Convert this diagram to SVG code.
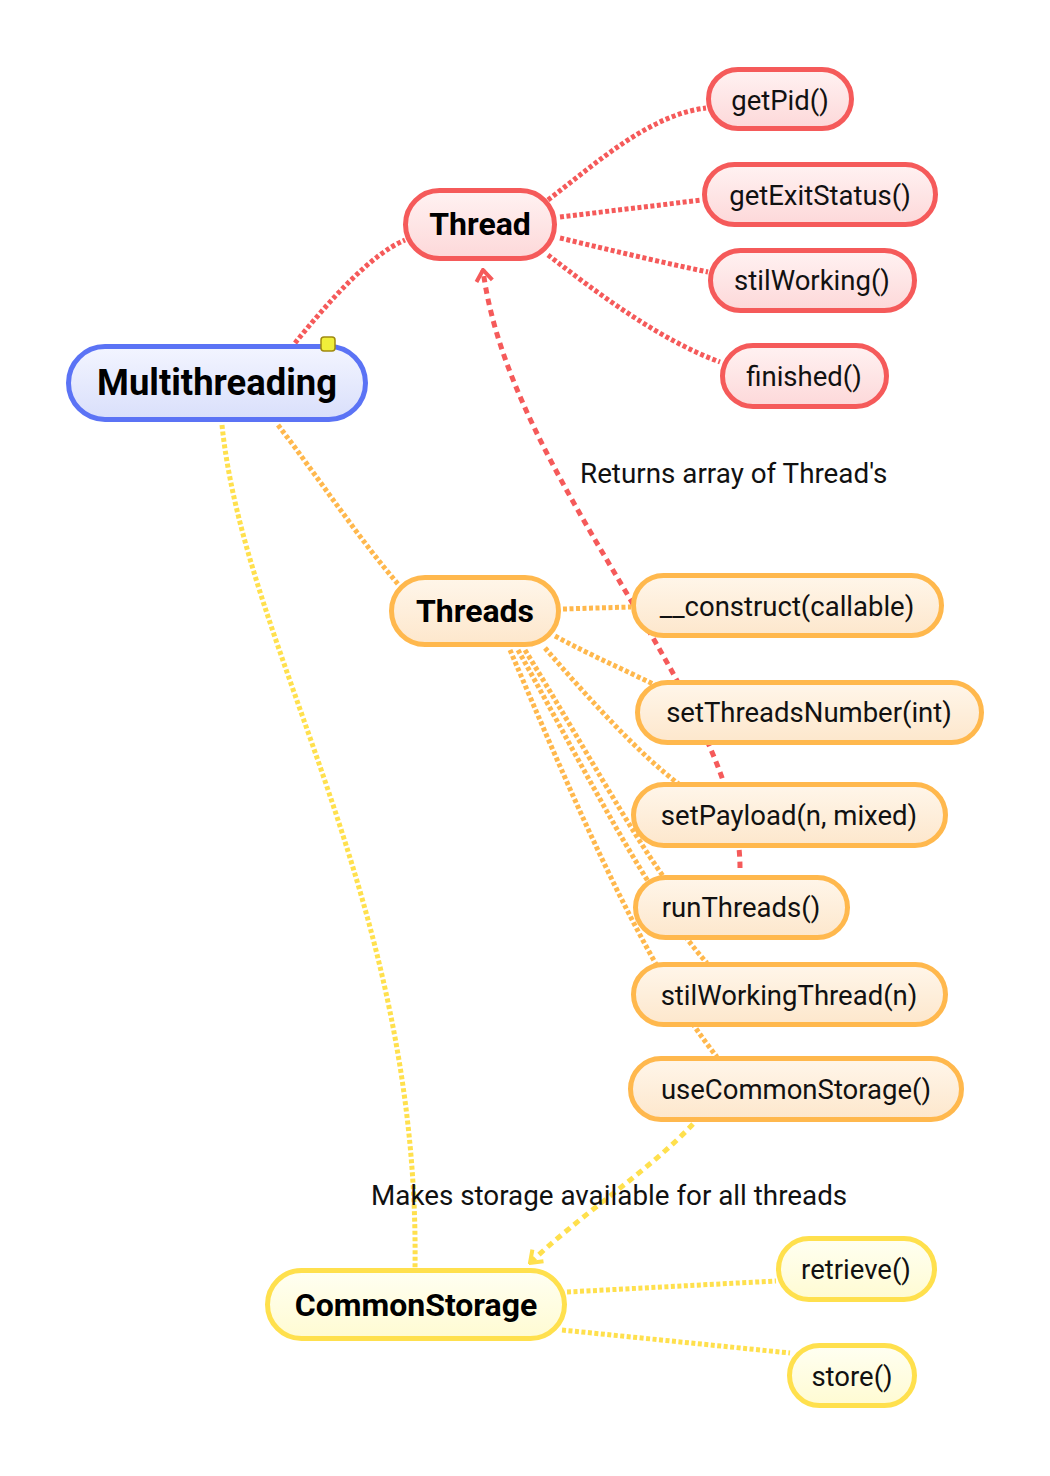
<svg xmlns="http://www.w3.org/2000/svg" width="1050" height="1476" viewBox="0 0 1050 1476">
<defs>
<linearGradient id="gBlue" x1="0" y1="0" x2="0" y2="1"><stop offset="0" stop-color="#f3f5ff"/><stop offset="1" stop-color="#d9dffb"/></linearGradient>
<linearGradient id="gRed" x1="0" y1="0" x2="0" y2="1"><stop offset="0" stop-color="#fff2f2"/><stop offset="1" stop-color="#fdd8d9"/></linearGradient>
<linearGradient id="gOrange" x1="0" y1="0" x2="0" y2="1"><stop offset="0" stop-color="#fff6ea"/><stop offset="1" stop-color="#fde7cc"/></linearGradient>
<linearGradient id="gYellow" x1="0" y1="0" x2="0" y2="1"><stop offset="0" stop-color="#fffff2"/><stop offset="1" stop-color="#fffbd2"/></linearGradient>
<marker id="arrRed" viewBox="-14 -10 16 20" markerWidth="16" markerHeight="20" refX="0" refY="0" orient="auto" markerUnits="userSpaceOnUse"><path d="M-11,-8 L0,0 L-11,8" fill="none" stroke="#f55a5a" stroke-width="4"/></marker>
<marker id="arrYellow" viewBox="-14 -10 16 20" markerWidth="16" markerHeight="20" refX="0" refY="0" orient="auto" markerUnits="userSpaceOnUse"><path d="M-11,-8 L0,0 L-11,8" fill="none" stroke="#ffe04d" stroke-width="4"/></marker>
</defs>
<style>
.c{fill:none;stroke-width:5;stroke-dasharray:4 2.5}
.red{stroke:#f55a5a}
.orange{stroke:#ffb84d}
.yellow{stroke:#ffe04d}
.x{fill:none;stroke-width:5;stroke-dasharray:6.5 5}
.n rect{stroke-width:5}
.nr rect{fill:url(#gRed);stroke:#f55a5a}
.no rect{fill:url(#gOrange);stroke:#ffb84d}
.ny rect{fill:url(#gYellow);stroke:#ffe04d}
.nb rect{fill:url(#gBlue);stroke:#5b73f5}
text{font-family:Roboto,"Liberation Sans",sans-serif;text-anchor:middle;fill:#111}
.t{font-size:27.5px}
.b{font-size:32px;font-weight:bold;fill:#000}
.lbl{font-size:27.8px;text-anchor:start}
</style>
<g id="connectors">
<path class="c red" d="M295,343 C330,300 370,255 405,240"/>
<path class="c orange" d="M278,425 C320,480 360,540 398,584"/>
<path class="c yellow" d="M222,425 C245,650 420,900 415,1268"/>
<path class="c red" d="M548,200 C600,160 650,115 706,108"/>
<path class="c red" d="M560,217 L702,200"/>
<path class="c red" d="M560,238 C610,250 660,262 708,272"/>
<path class="c red" d="M548,255 C600,295 660,340 720,362"/>
<path class="c orange" d="M563,609 L631,607"/>
<path class="c orange" d="M555,636 C590,655 625,670 655,685"/>
<path class="c orange" d="M545,648 C590,700 640,755 680,785"/>
<path class="c orange" d="M525,650 C580,740 630,830 663,876"/>
<path class="c orange" d="M518,650 C585,770 650,900 707,963"/>
<path class="c orange" d="M510,650 C570,790 640,960 717,1057"/>
<path class="c yellow" d="M567,1292 L776,1281"/>
<path class="c yellow" d="M562,1330 L790,1353"/>
<path class="x red" d="M740,868 C740,700 510,480 483,270" marker-end="url(#arrRed)"/>
<path class="x yellow" d="M693,1124 C650,1170 580,1215 530,1263" marker-end="url(#arrYellow)"/>
<text class="lbl" x="580" y="483">Returns array of Thread's</text>
<text class="lbl" x="371" y="1205">Makes storage available for all threads</text>
</g>
<g id="Multithreading" class="n nb"><rect x="68.5" y="346.5" width="297" height="73" rx="36.5"/><text class="b" x="217" y="395" style="font-size:36.4px">Multithreading</text>
<rect x="321" y="337" width="14" height="14" rx="3" style="fill:#f0ef3a;stroke:#a08a10;stroke-width:1.5"/></g>
<g id="Thread" class="n nr"><rect x="405.5" y="190.5" width="149" height="68" rx="34"/><text class="b" x="480" y="235">Thread</text></g>
<g id="getPid" class="n nr"><rect x="708.5" y="69.5" width="143" height="59" rx="29.5"/><text class="t" x="780" y="110">getPid()</text></g>
<g id="getExitStatus" class="n nr"><rect x="704.5" y="164.5" width="231" height="60" rx="30"/><text class="t" x="820" y="205">getExitStatus()</text></g>
<g id="stilWorking" class="n nr"><rect x="710.5" y="250.5" width="204" height="60" rx="30"/><text class="t" x="812" y="290">stilWorking()</text></g>
<g id="finished" class="n nr"><rect x="722.5" y="345.5" width="164" height="61" rx="30.5"/><text class="t" x="804" y="386">finished()</text></g>
<g id="Threads" class="n no"><rect x="391.5" y="577.5" width="167" height="67" rx="33.5"/><text class="b" x="475" y="622">Threads</text></g>
<g id="construct" class="n no"><rect x="633.5" y="575.5" width="308" height="60" rx="30"/><text class="t" x="787" y="616">__construct(callable)</text></g>
<g id="setThreadsNumber" class="n no"><rect x="637.5" y="682.5" width="344" height="60" rx="30"/><text class="t" x="809" y="722">setThreadsNumber(int)</text></g>
<g id="setPayload" class="n no"><rect x="633.5" y="784.5" width="312" height="61" rx="30.5"/><text class="t" x="789" y="825">setPayload(n, mixed)</text></g>
<g id="runThreads" class="n no"><rect x="635.5" y="877.5" width="212" height="60" rx="30"/><text class="t" x="741" y="917">runThreads()</text></g>
<g id="stilWorkingThread" class="n no"><rect x="633.5" y="964.5" width="312" height="60" rx="30"/><text class="t" x="789" y="1005">stilWorkingThread(n)</text></g>
<g id="useCommonStorage" class="n no"><rect x="630.5" y="1058.5" width="331" height="61" rx="30.5"/><text class="t" x="796" y="1099">useCommonStorage()</text></g>
<g id="CommonStorage" class="n ny"><rect x="267.5" y="1270.5" width="297" height="68" rx="34"/><text class="b" x="416" y="1316">CommonStorage</text></g>
<g id="retrieve" class="n ny"><rect x="778.5" y="1238.5" width="156" height="61" rx="30.5"/><text class="t" x="856" y="1279">retrieve()</text></g>
<g id="store" class="n ny"><rect x="789.5" y="1345.5" width="125" height="60" rx="30"/><text class="t" x="852" y="1386">store()</text></g>
</svg>
